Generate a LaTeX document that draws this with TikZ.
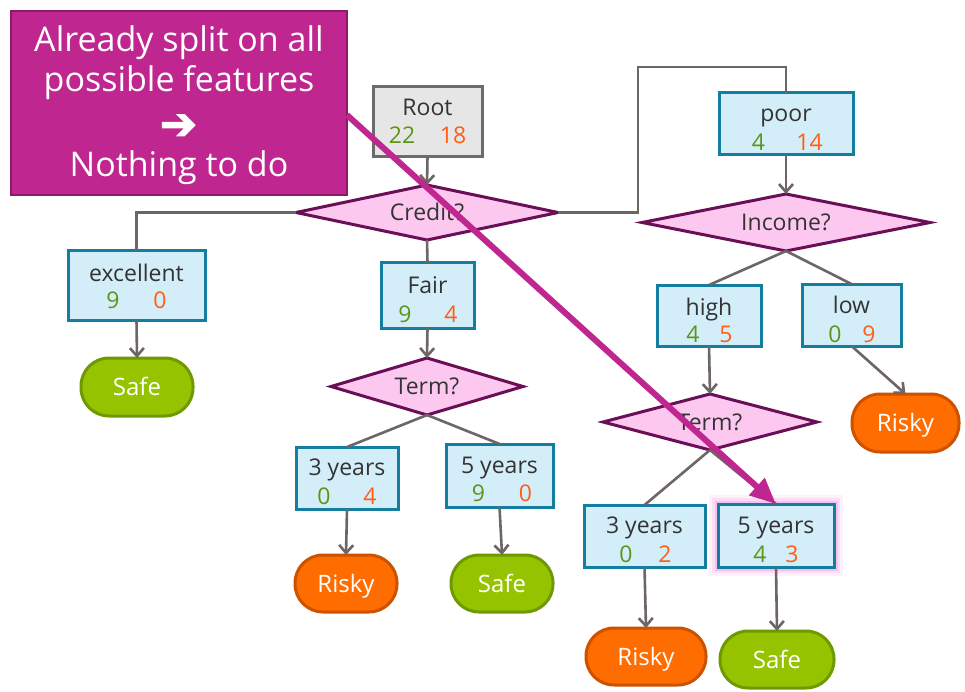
\documentclass[tikz,border=0pt]{standalone}
\usepackage{fontspec}
\setmainfont{Open Sans}
\newfontfamily\arrowfont[FakeBold=3]{DejaVu Sans}
\usetikzlibrary{shapes.geometric,arrows.meta}
\definecolor{boxfill}{HTML}{D3EEF9}
\definecolor{boxline}{HTML}{137EA0}
\definecolor{dfill}{HTML}{FDC8EF}
\definecolor{dline}{HTML}{6A0E55}
\definecolor{gfill}{HTML}{95C300}
\definecolor{gline}{HTML}{6E9A00}
\definecolor{ofill}{HTML}{FF6D00}
\definecolor{oline}{HTML}{CC5200}
\definecolor{txt}{HTML}{333333}
\definecolor{numg}{HTML}{5E9416}
\definecolor{numo}{HTML}{FF5E14}
\definecolor{cfill}{HTML}{BF268F}
\definecolor{cline}{HTML}{8C1A68}
\definecolor{rfill}{HTML}{E6E6E6}
\definecolor{rline}{HTML}{6B6B6B}
\definecolor{conn}{HTML}{6D6566}
\definecolor{glow}{HTML}{F38FE0}
\newcommand{\nn}[3]{\makebox[0pt]{\color{numg}#1}\hspace{#3}\makebox[0pt]{\color{numo}#2}}
\begin{document}
\begin{tikzpicture}[x=1pt,y=-1pt,
  every node/.style={inner sep=0pt,outer sep=0pt},
  databox/.style={rectangle,draw=boxline,fill=boxfill,line width=3pt},
  rootbox/.style={databox,draw=rline,fill=rfill},
  word/.style={anchor=base,text=txt,font=\fontsize{23}{23}\selectfont},
  count/.style={anchor=base,font=\fontsize{23}{23}\selectfont},
  question/.style={diamond,aspect=4.5,draw=dline,fill=dfill,line width=3pt,text=txt,
    font=\fontsize{23}{23}\selectfont,text height=16.4pt,text depth=0pt},
  safeleaf/.style={rectangle,rounded corners=28pt,draw=gline,fill=gfill,line width=3pt,text=white,
    font=\fontsize{24}{24}\selectfont,text height=17pt,text depth=0pt},
  riskyleaf/.style={safeleaf,draw=oline,fill=ofill},
  link/.style={draw=conn,line width=2.6pt},
  arrowlink/.style={link,-{Straight Barb[length=8pt,width=14pt]}},
  callout/.style={rectangle,draw=cline,fill=cfill,line width=2pt},
  calltext/.style={anchor=base,text=white,font=\fontsize{34}{34}\selectfont},
  bigarrow/.style={draw=cfill,line width=6pt,-{Triangle[length=26pt,width=22pt]}}
]
\useasboundingbox (0,0) rectangle (965,692);
\fill[white] (0,0) rectangle (965,692);

% callout
\node[callout,minimum width=336pt,minimum height=184pt] (call) at (179,103) {};
\node[calltext] (callA) at (179,51.5) {Already split on all};
\node[calltext] (callB) at (179,92) {possible features};
\node[calltext,font=\arrowfont\fontsize{44}{44}\selectfont] (callC) at (178.5,139) {➔};
\node[calltext] (callD) at (179,176.5) {Nothing to do};

% boxes
\node[rootbox,minimum width=109pt,minimum height=70pt] (root) at (427.5,122) {};
\node[word] (rootW) at (427.5,116) {Root};
\node[count] (rootN) at (427.5,144) {\nn{22}{18}{51pt}};

\node[question,minimum width=262pt,minimum height=55pt] (credit) at (427,212.5) {Credit?};

\node[databox,minimum width=137pt,minimum height=69pt] (exc) at (136.5,285.5) {};
\node[word] (excW) at (136.5,281) {excellent};
\node[count] (excN) at (136.5,308.5) {\nn{9}{0}{47pt}};
\node[safeleaf,minimum width=112pt,minimum height=58pt] (safeA) at (137,387) {Safe};

\node[databox,minimum width=93pt,minimum height=65pt] (fair) at (427.5,295.5) {};
\node[word] (fairW) at (427.5,293) {Fair};
\node[count] (fairN) at (428,322) {\nn{9}{4}{46pt}};
\node[question,minimum width=192pt,minimum height=57pt] (termA) at (427,386.5) {Term?};

\node[databox,minimum width=102pt,minimum height=62pt] (thrA) at (347,478) {};
\node[word] (thrAW) at (347,475) {3 years};
\node[count] (thrAN) at (347,504) {\nn{0}{4}{46pt}};
\node[databox,minimum width=107pt,minimum height=63pt] (fivA) at (499.5,475.5) {};
\node[word] (fivAW) at (499.5,473) {5 years};
\node[count] (fivAN) at (502,501) {\nn{9}{0}{47pt}};
\node[riskyleaf,minimum width=102pt,minimum height=57pt] (riskA) at (346,583.5) {Risky};
\node[safeleaf,minimum width=102pt,minimum height=57pt] (safeB) at (502,583.5) {Safe};

\node[databox,minimum width=134pt,minimum height=62pt] (poor) at (786,124) {};
\node[word] (poorW) at (786,122) {poor};
\node[count] (poorN) at (784,151) {\nn{4}{14}{51pt}};
\node[question,minimum width=288pt,minimum height=57pt] (income) at (786,222.5) {Income?};

\node[databox,minimum width=104pt,minimum height=61pt] (high) at (709,315.5) {};
\node[word] (highW) at (709,315) {high};
\node[count] (highN) at (709.5,342) {\nn{4}{5}{33pt}};
\node[databox,minimum width=99pt,minimum height=62pt] (low) at (851.5,315) {};
\node[word] (lowW) at (851.5,313) {low};
\node[count] (lowN) at (852,342) {\nn{0}{9}{34pt}};
\node[riskyleaf,minimum width=107pt,minimum height=58pt] (riskB) at (905.5,423) {Risky};

\node[question,minimum width=214pt,minimum height=56pt] (termB) at (710,422) {Term?};
\node[databox,minimum width=121pt,minimum height=62pt] (thrB) at (644.5,536) {};
\node[word] (thrBW) at (644.5,533) {3 years};
\node[count] (thrBN) at (645.5,562) {\nn{0}{2}{39pt}};
\node[databox,minimum width=116pt,minimum height=63pt,
  preaction={draw=glow,line width=18pt,opacity=0.12},
  preaction={draw=glow,line width=12pt,opacity=0.2},
  preaction={draw=glow,line width=7pt,opacity=0.35}] (fivB) at (776,535.5) {};
\node[word] (fivBW) at (776,533) {5 years};
\node[count] (fivBN) at (776,562) {\nn{4}{3}{32pt}};
\node[riskyleaf,minimum width=120pt,minimum height=57pt] (riskC) at (646,656.5) {Risky};
\node[safeleaf,minimum width=114pt,minimum height=57pt] (safeC) at (777,659.5) {Safe};

\coordinate (bend) at (638,67);
\coordinate (callstart) at (347,115);

% connectors
\draw[arrowlink] (root.south) -- (credit.north);
\draw[link] (credit.west) -| (exc.north);
\draw[link] (credit.east) -| (bend) -| (poor.north);
\draw[link] (credit.south) -- (fair.north);
\draw[arrowlink] (exc.south) -- (safeA.north);
\draw[arrowlink] (fair.south) -- (termA.north);
\draw[link] (termA.south) -- (thrA.north);
\draw[link] (termA.south) -- (fivA.north);
\draw[arrowlink] (thrA.south) -- (riskA.north);
\draw[arrowlink] (fivA.south) -- (safeB.north);
\draw[arrowlink] (poor.south) -- (income.north);
\draw[link] (income.south) -- (high.north);
\draw[link] (income.south) -- (low.north);
\draw[arrowlink] (high.south) -- (termB.north);
\draw[arrowlink] (low.south) -- (riskB.north);
\draw[link] (termB.south) -- (thrB.north);
\draw[link] (termB.south) -- (fivB.north);
\draw[arrowlink] (thrB.south) -- (riskC.north);
\draw[arrowlink] (fivB.south) -- (safeC.north);

% callout arrow
\draw[bigarrow] (callstart) -- (fivB.north);
\end{tikzpicture}
\end{document}
